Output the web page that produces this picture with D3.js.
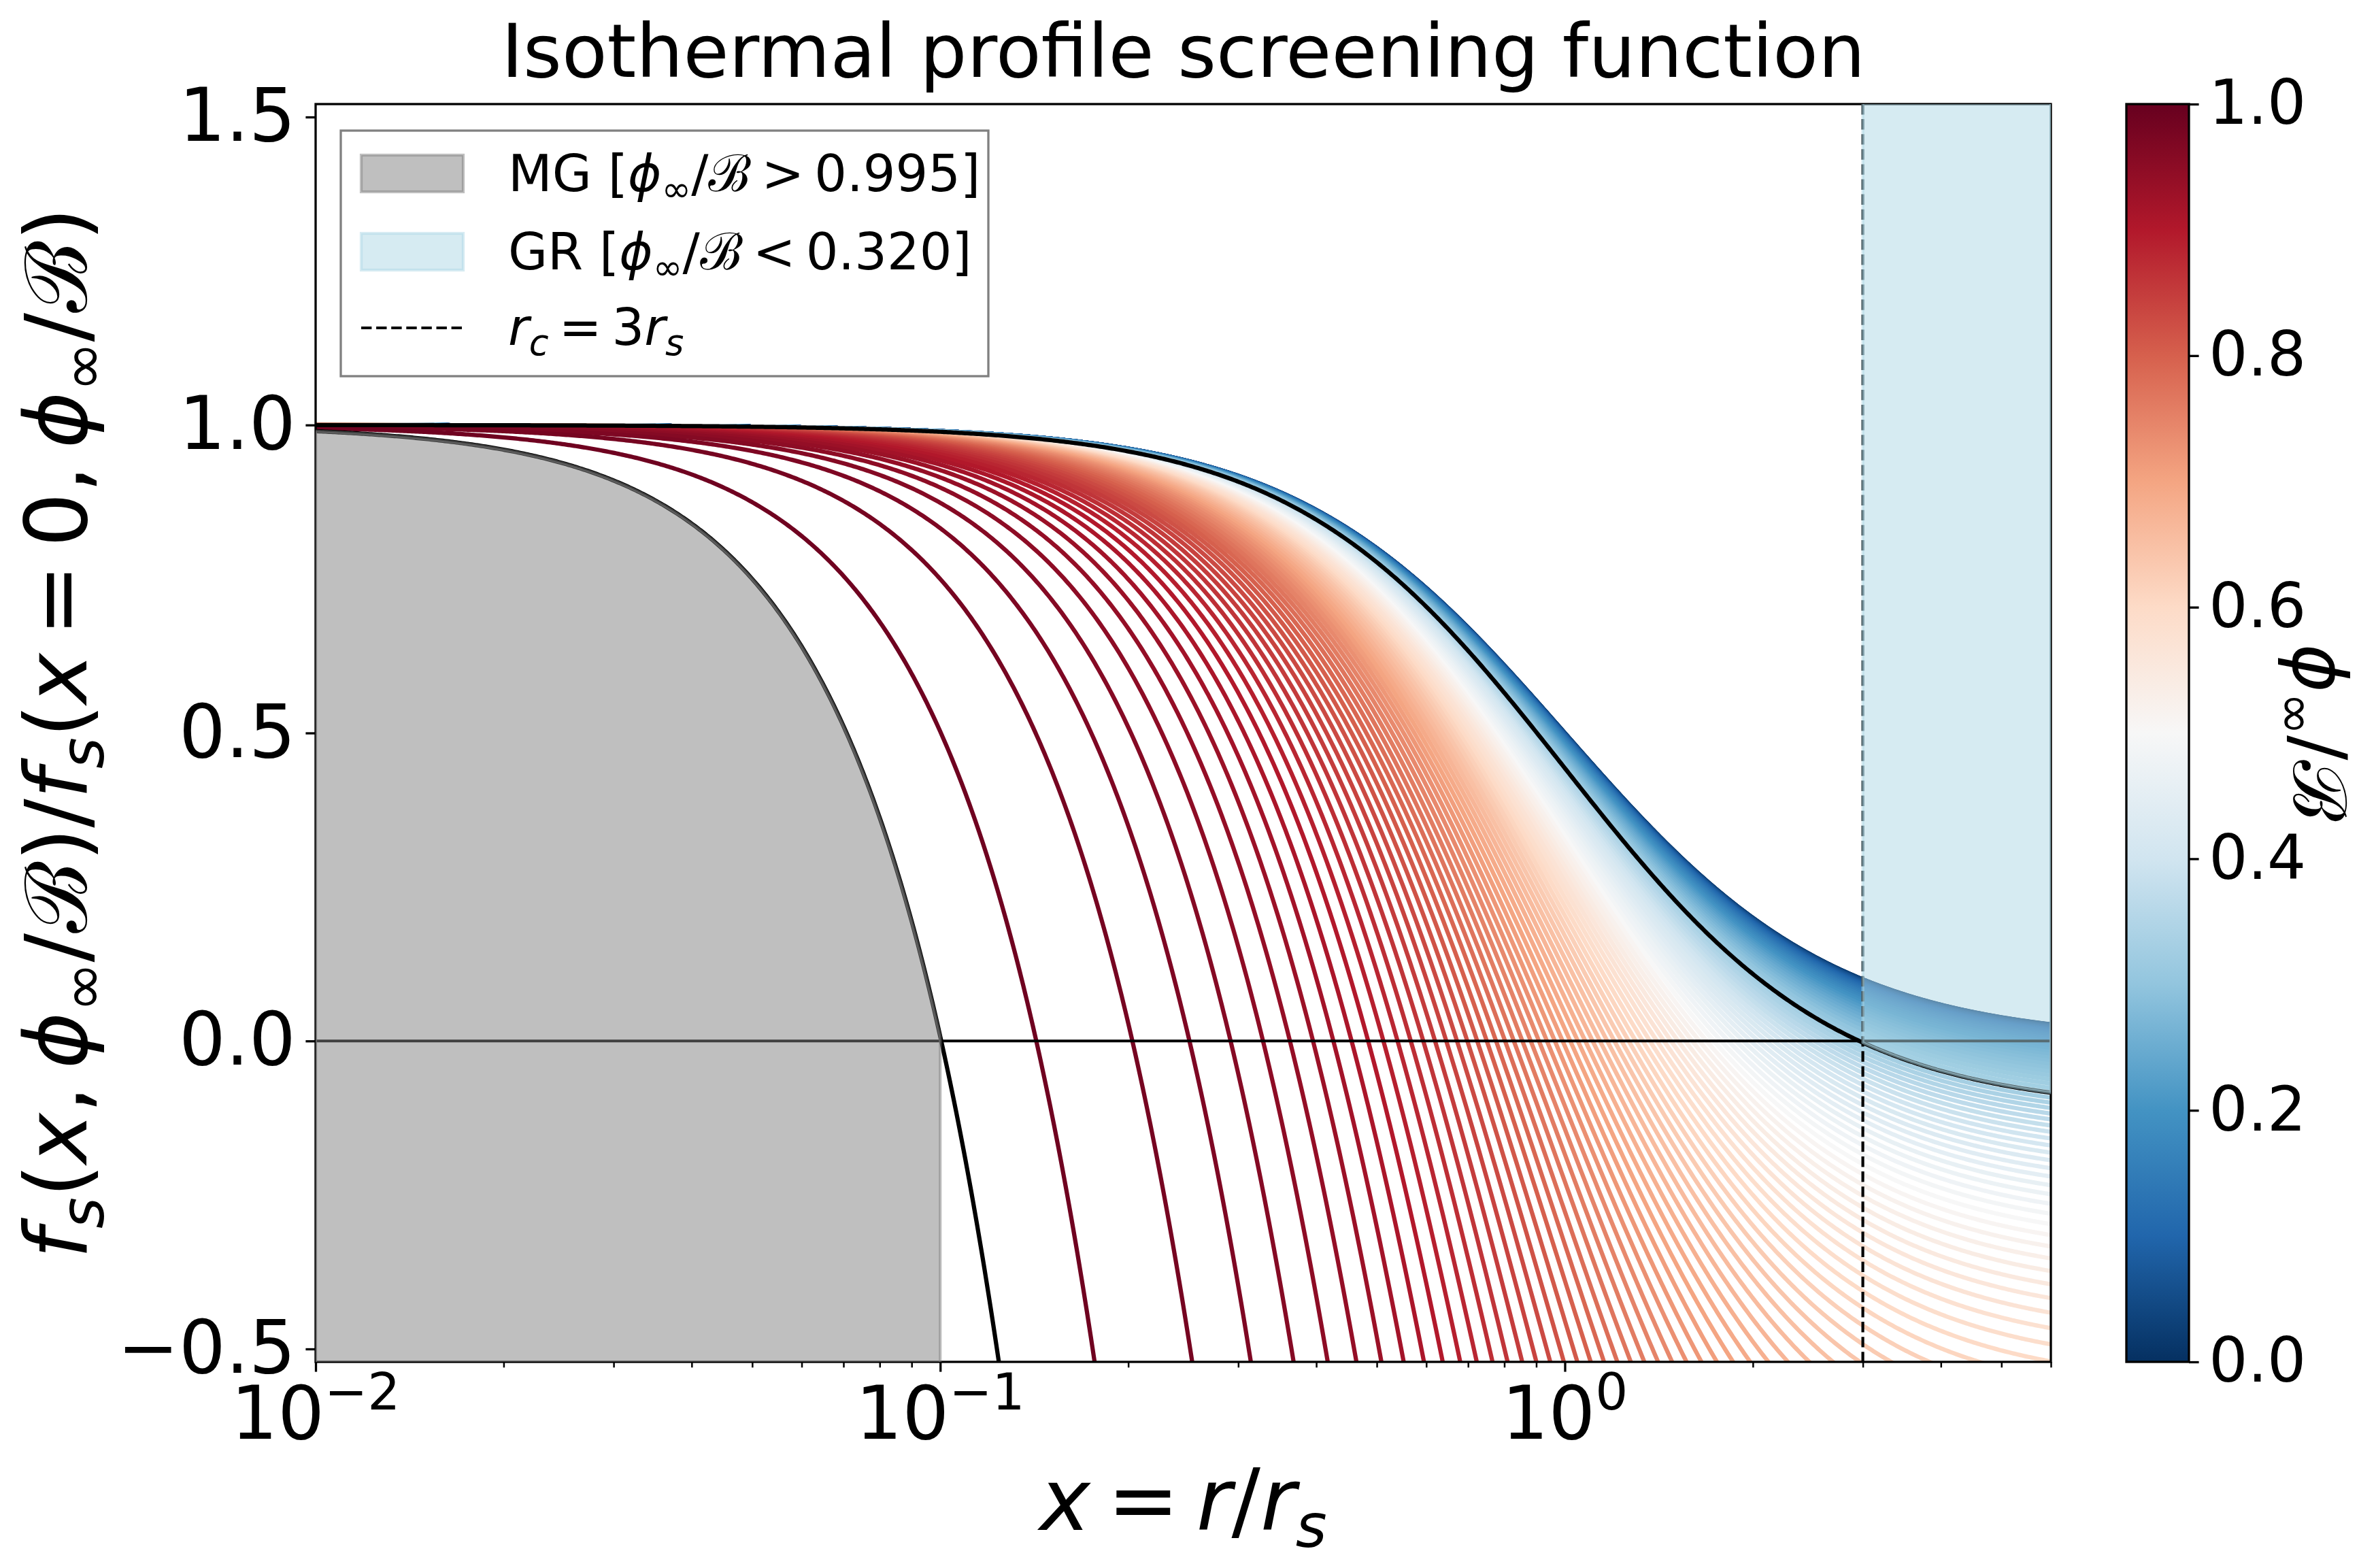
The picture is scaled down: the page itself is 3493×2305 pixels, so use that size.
<!DOCTYPE html>
<html>
<head>
<meta charset="utf-8">
<script src="https://cdn.jsdelivr.net/npm/d3@7"></script>
<style>
    body { margin: 0; background: #fff; }
    text { font-family: "DejaVu Sans", sans-serif; fill: #000; }
</style>
</head>
<body>
<div id="chart"></div>
<script>

// phi_inf / B of every coloured curve (steps of 0.01)
var phiRatios = [
    0.00, 0.01, 0.02, 0.03, 0.04, 0.05, 0.06, 0.07, 0.08, 0.09,
    0.10, 0.11, 0.12, 0.13, 0.14, 0.15, 0.16, 0.17, 0.18, 0.19,
    0.20, 0.21, 0.22, 0.23, 0.24, 0.25, 0.26, 0.27, 0.28, 0.29,
    0.30, 0.31, 0.32, 0.33, 0.34, 0.35, 0.36, 0.37, 0.38, 0.39,
    0.40, 0.41, 0.42, 0.43, 0.44, 0.45, 0.46, 0.47, 0.48, 0.49,
    0.50, 0.51, 0.52, 0.53, 0.54, 0.55, 0.56, 0.57, 0.58, 0.59,
    0.60, 0.61, 0.62, 0.63, 0.64, 0.65, 0.66, 0.67, 0.68, 0.69,
    0.70, 0.71, 0.72, 0.73, 0.74, 0.75, 0.76, 0.77, 0.78, 0.79,
    0.80, 0.81, 0.82, 0.83, 0.84, 0.85, 0.86, 0.87, 0.88, 0.89,
    0.90, 0.91, 0.92, 0.93, 0.94, 0.95, 0.96, 0.97, 0.98, 0.99
];
// black limit curves: MG threshold, GR threshold
var limitRatios = [0.995, 0.320];
var rcLine = [3];
var mgCut = [0.1];

var xLimits = [0.01, 6];
var yLimits = [-0.521, 1.521];
var xMajorTicks = [0.01, 0.1, 1];
var xTickExponents = ["\u22122", "\u22121", "0"];
var yTicks = [-0.5, 0.0, 0.5, 1.0, 1.5];
var cbTicks = [0.0, 0.2, 0.4, 0.6, 0.8, 1.0];

// RdBu_r anchor colours
var rdbuColors = ["#053061", "#2166ac", "#4393c3", "#92c5de", "#d1e5f0", "#f7f7f7",
                  "#fddbc7", "#f4a582", "#d6604d", "#b2182b", "#67001f"];

// normalised screening function of the isothermal profile
function screening(x, q) {
    var q2 = q * q;
    return (1 / (1 + x * x) - q2) / (1 - q2);
}

var THIN = "\u2009";

// tiny mathtext-ish writer: parts with italic / sub / sup / cal flags
function mathText(sel, parts, size) {
    var shift = 0;
    parts.forEach(function(p) {
        var target = p.sub ? 0.2 * size : (p.sup ? -0.4 * size : 0);
        var t = sel.append("tspan")
            .attr("dy", target - shift)
            .attr("font-size", (p.sub || p.sup) ? 0.7 * size : size)
            .attr("font-style", p.it ? "italic" : "normal")
            .text(p.t);
        if (p.cal) t.attr("font-family", "DejaVu Serif").attr("font-style", "normal");
        if (p.dx) t.attr("dx", p.dx);
        shift = target;
    });
}

function ratioParts() {
    return [{t: "\u03d5", it: true}, {t: "\u221e", sub: true}, {t: "/"}, {t: "\u212c", cal: true}];
}

ScreeningPlot = function(_parentElement) {
    var vis = this;
    vis.parentElement = _parentElement;
    vis.initVis();
};

ScreeningPlot.prototype.initVis = function() {
    var vis = this;

    vis.W = 3493;
    vis.H = 2305;
    vis.box = { left: 464, right: 3015, top: 153, bottom: 2002 };

    vis.svg = d3.select("#" + vis.parentElement).append("svg")
        .attr("width", vis.W)
        .attr("height", vis.H);

    vis.x = d3.scaleLog().domain(xLimits).range([vis.box.left, vis.box.right]);
    vis.y = d3.scaleLinear().domain(yLimits).range([vis.box.bottom, vis.box.top]);

    vis.color = d3.scaleLinear()
        .domain(rdbuColors.map(function(d, i) { return i / 10; }))
        .range(rdbuColors)
        .interpolate(d3.interpolateRgb);

    vis.svg.append("clipPath").attr("id", "plotclip")
        .append("rect")
        .attr("x", vis.box.left).attr("y", vis.box.top)
        .attr("width", vis.box.right - vis.box.left)
        .attr("height", vis.box.bottom - vis.box.top);

    // sample positions along the log axis
    var n = 900;
    vis.xs = d3.range(n + 1).map(function(i) {
        return xLimits[0] * Math.pow(xLimits[1] / xLimits[0], i / n);
    });

    vis.updateVis();
};

ScreeningPlot.prototype.updateVis = function() {
    var vis = this;
    var x = vis.x, y = vis.y, b = vis.box;

    var plot = vis.svg.append("g").attr("clip-path", "url(#plotclip)");

    var line = function(q) {
        return d3.line()
            .x(function(d) { return x(d); })
            .y(function(d) { return y(Math.max(-2, screening(d, q))); });
    };

    plot.selectAll(".family")
        .data(phiRatios).enter()
        .append("path")
        .attr("class", "family")
        .attr("fill", "none")
        .attr("stroke-width", 6.25)
        .attr("stroke", function(d) { return vis.color(d); })
        .attr("d", function(d) { return line(d)(vis.xs); });

    plot.selectAll(".limit")
        .data(limitRatios).enter()
        .append("path")
        .attr("class", "limit")
        .attr("fill", "none")
        .attr("stroke", "#000")
        .attr("stroke-width", 6.25)
        .attr("d", function(d) { return line(d)(vis.xs); });

    // zero line and r_c marker
    plot.append("line")
        .attr("x1", b.left).attr("x2", b.right)
        .attr("y1", y(0)).attr("y2", y(0))
        .attr("stroke", "#000").attr("stroke-width", 4.2);

    plot.selectAll(".rc")
        .data(rcLine).enter()
        .append("line")
        .attr("class", "rc")
        .attr("x1", function(d) { return x(d); }).attr("x2", function(d) { return x(d); })
        .attr("y1", b.top).attr("y2", b.bottom)
        .attr("stroke", "#000").attr("stroke-width", 4.2)
        .attr("stroke-dasharray", "15.4,6.7");

    // spines
    vis.svg.append("rect")
        .attr("x", b.left).attr("y", b.top)
        .attr("width", b.right - b.left).attr("height", b.bottom - b.top)
        .attr("fill", "none").attr("stroke", "#000").attr("stroke-width", 3.3);

    // shaded regimes
    var fills = vis.svg.append("g").attr("clip-path", "url(#plotclip)");

    var mgX = vis.xs.filter(function(d) { return d < mgCut[0]; }).concat(mgCut);
    fills.append("path")
        .datum(mgX)
        .attr("fill", "#808080").attr("fill-opacity", 0.5)
        .attr("stroke", "#808080").attr("stroke-opacity", 0.5).attr("stroke-width", 4.2)
        .attr("d", d3.area()
            .x(function(d) { return x(d); })
            .y0(y(-0.7))
            .y1(function(d) { return y(screening(d, limitRatios[0])); }));

    var grX = rcLine.concat(vis.xs.filter(function(d) { return d > rcLine[0]; }));
    fills.append("path")
        .datum(grX)
        .attr("fill", "#add8e6").attr("fill-opacity", 0.5)
        .attr("stroke", "#add8e6").attr("stroke-opacity", 0.5).attr("stroke-width", 4.2)
        .attr("d", d3.area()
            .x(function(d) { return x(d); })
            .y0(function(d) { return y(screening(d, limitRatios[1])); })
            .y1(y(1.7)));

    // axes
    var yAxis = d3.axisLeft(y).tickValues(yTicks)
        .tickSize(14.6).tickPadding(14.6)
        .tickFormat(d3.format(".1f"));
    var yg = vis.svg.append("g").attr("transform", "translate(" + b.left + ",0)").call(yAxis);
    yg.select(".domain").remove();
    yg.selectAll(".tick line").attr("stroke-width", 3.3);
    yg.selectAll(".tick text").attr("font-size", 108).attr("font-family", "DejaVu Sans");

    var minor = x.ticks().filter(function(d) { return xMajorTicks.indexOf(d) < 0; });
    var xMinor = d3.axisBottom(x).tickValues(minor).tickSize(8.3).tickFormat("");
    var xmg = vis.svg.append("g").attr("transform", "translate(0," + b.bottom + ")").call(xMinor);
    xmg.select(".domain").remove();
    xmg.selectAll(".tick line").attr("stroke-width", 2.5);

    var xMajor = d3.axisBottom(x).tickValues(xMajorTicks).tickSize(14.6).tickFormat("");
    var xg = vis.svg.append("g").attr("transform", "translate(0," + b.bottom + ")").call(xMajor);
    xg.select(".domain").remove();
    xg.selectAll(".tick line").attr("stroke-width", 3.3);

    xMajorTicks.forEach(function(d, i) {
        var t = vis.svg.append("text")
            .attr("x", x(d)).attr("y", 2115)
            .attr("text-anchor", "middle");
        mathText(t, [{t: "10"}, {t: xTickExponents[i], sup: true}], 108);
    });

    // title and axis labels
    vis.svg.append("text")
        .attr("x", (b.left + b.right) / 2).attr("y", 113)
        .attr("text-anchor", "middle").attr("font-size", 109)
        .text("Isothermal profile screening function");

    var xl = vis.svg.append("text")
        .attr("x", (b.left + b.right) / 2).attr("y", 2249)
        .attr("text-anchor", "middle");
    mathText(xl, [{t: "x", it: true}, {t: THIN + "=" + THIN}, {t: "r", it: true}, {t: "/"},
                  {t: "r", it: true}, {t: "s", it: true, sub: true}], 126);

    var yl = vis.svg.append("text")
        .attr("transform", "translate(127," + ((b.top + b.bottom) / 2) + ") rotate(-90)")
        .attr("text-anchor", "middle");
    var fsParts = [{t: "f", it: true}, {t: "s", it: true, sub: true}];
    mathText(yl, fsParts.concat([{t: "("}, {t: "x", it: true}, {t: "," + THIN}])
        .concat(ratioParts()).concat([{t: ")/"}]).concat(fsParts)
        .concat([{t: "("}, {t: "x", it: true}, {t: THIN + "=" + THIN + "0," + THIN}])
        .concat(ratioParts()).concat([{t: ")"}]), 126);

    vis.drawColorbar();
    vis.drawLegend();
};

ScreeningPlot.prototype.drawColorbar = function() {
    var vis = this;
    var cb = { left: 3126, right: 3218, top: vis.box.top, bottom: vis.box.bottom };

    var grad = vis.svg.append("defs").append("linearGradient")
        .attr("id", "cbgrad")
        .attr("x1", 0).attr("y1", 1).attr("x2", 0).attr("y2", 0);
    grad.selectAll("stop")
        .data(rdbuColors).enter()
        .append("stop")
        .attr("offset", function(d, i) { return (i * 10) + "%"; })
        .attr("stop-color", function(d) { return d; });

    vis.svg.append("rect")
        .attr("x", cb.left).attr("y", cb.top)
        .attr("width", cb.right - cb.left).attr("height", cb.bottom - cb.top)
        .attr("fill", "url(#cbgrad)")
        .attr("stroke", "#000").attr("stroke-width", 3.3);

    var cy = d3.scaleLinear().domain([0, 1]).range([cb.bottom, cb.top]);
    var ax = d3.axisRight(cy).tickValues(cbTicks)
        .tickSize(14.6).tickPadding(14.6)
        .tickFormat(d3.format(".1f"));
    var g = vis.svg.append("g").attr("transform", "translate(" + cb.right + ",0)").call(ax);
    g.select(".domain").remove();
    g.selectAll(".tick line").attr("stroke-width", 3.3);
    g.selectAll(".tick text").attr("font-size", 90).attr("font-family", "DejaVu Sans");

    var lab = vis.svg.append("text")
        .attr("transform", "translate(3372," + ((cb.top + cb.bottom) / 2) + ") rotate(90)")
        .attr("text-anchor", "middle");
    mathText(lab, ratioParts(), 108);
};

ScreeningPlot.prototype.drawLegend = function() {
    var vis = this;
    var lg = vis.svg.append("g");

    lg.append("rect")
        .attr("x", 501).attr("y", 192).attr("width", 952).attr("height", 361)
        .attr("fill", "#fff").attr("fill-opacity", 0.8)
        .attr("stroke", "#808080").attr("stroke-width", 3.3);

    lg.append("rect")
        .attr("x", 531).attr("y", 228).attr("width", 150).attr("height", 54)
        .attr("fill", "#808080").attr("fill-opacity", 0.5)
        .attr("stroke", "#808080").attr("stroke-opacity", 0.5).attr("stroke-width", 4.2);

    lg.append("rect")
        .attr("x", 531).attr("y", 343).attr("width", 150).attr("height", 54)
        .attr("fill", "#add8e6").attr("fill-opacity", 0.5)
        .attr("stroke", "#add8e6").attr("stroke-opacity", 0.5).attr("stroke-width", 4.2);

    lg.append("line")
        .attr("x1", 531).attr("x2", 681).attr("y1", 482).attr("y2", 482)
        .attr("stroke", "#000").attr("stroke-width", 4.2)
        .attr("stroke-dasharray", "15.4,6.7");

    var t1 = lg.append("text").attr("x", 747).attr("y", 281);
    mathText(t1, [{t: "MG ["}].concat(ratioParts())
        .concat([{t: THIN + ">" + THIN + "0.995]"}]), 75);

    var t2 = lg.append("text").attr("x", 747).attr("y", 396);
    mathText(t2, [{t: "GR ["}].concat(ratioParts())
        .concat([{t: THIN + "<" + THIN + "0.320]"}]), 75);

    var t3 = lg.append("text").attr("x", 747).attr("y", 507);
    mathText(t3, [{t: "r", it: true}, {t: "c", it: true, sub: true},
                  {t: THIN + "=" + THIN + "3"}, {t: "r", it: true}, {t: "s", it: true, sub: true}], 75);
};

new ScreeningPlot("chart");

</script>
</body>
</html>
